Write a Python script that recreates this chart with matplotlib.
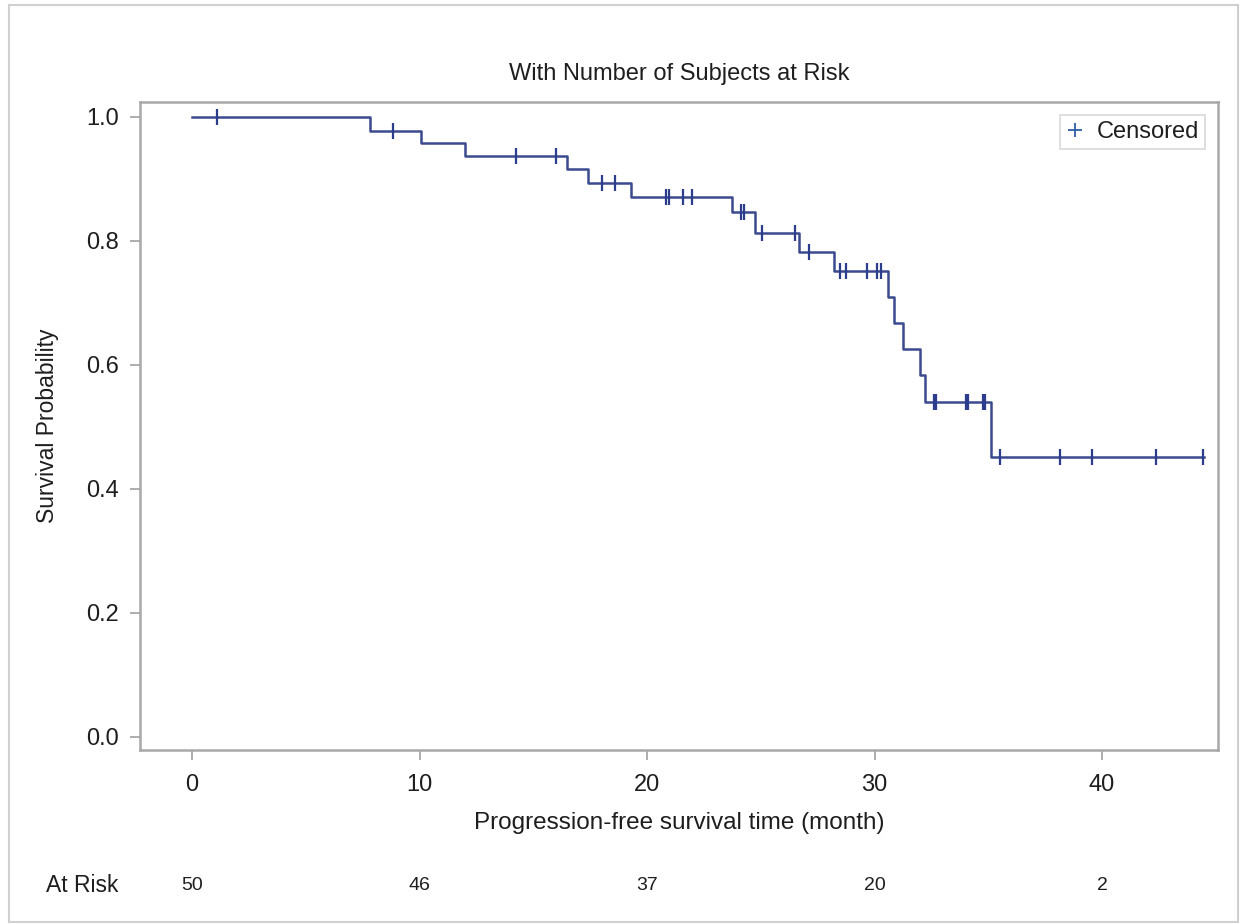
import numpy as np
import matplotlib
matplotlib.use("Agg")
import matplotlib.pyplot as plt
from matplotlib.patches import Rectangle
from matplotlib.lines import Line2D

plt.rcParams['font.family'] = ['Liberation Sans', 'DejaVu Sans']

# ---- data ----
step_times = [0, 7.8, 10.05, 12.0, 16.5, 17.4, 19.3, 23.75, 24.75, 26.7, 28.2,
              30.6, 30.87, 31.27, 32.0, 32.2, 35.1]
step_surv = [1.0, 0.978, 0.958, 0.937, 0.916, 0.894, 0.870, 0.846, 0.813, 0.782,
             0.752, 0.709, 0.668, 0.625, 0.584, 0.541, 0.451]
end_time = 44.5
censor_times = [1.1, 8.85, 14.25, 15.98, 18.0, 18.6, 20.85, 20.95, 21.56, 21.99,
                24.15, 24.25, 25.07, 26.5, 27.1, 28.5, 28.75, 29.66, 30.1, 30.29,
                32.6, 32.7, 34.0, 34.1, 34.75, 34.85, 35.5, 38.15, 39.57, 42.37, 44.45]
risk_times = [0, 10, 20, 30, 40]
risk_counts = [50, 46, 37, 20, 2]
x_ticks = [0, 10, 20, 30, 40]
y_ticks = [0.0, 0.2, 0.4, 0.6, 0.8, 1.0]

W, H = 1245, 924
fig = plt.figure(figsize=(W / 100, H / 100), dpi=100)
fig.patch.set_facecolor('white')

def fx(px):
    return px / W

def fy(py):
    return 1 - py / H

# outer frame
fig.add_artist(Rectangle((fx(9), fy(922)), fx(1238) - fx(9), fy(5) - fy(922),
                         transform=fig.transFigure, fill=False,
                         edgecolor='#D0D0D0', linewidth=1.5))

ax = fig.add_axes([fx(140), fy(750), fx(1218) - fx(140), fy(102) - fy(750)])

line_color = '#3B4A8E'
xs = list(step_times) + [end_time]
ys = list(step_surv) + [step_surv[-1]]
ax.step(xs, ys, where='post', color=line_color, linewidth=1.8, zorder=3)

# censor marks on the curve
st = np.array(step_times)
sv = np.array(step_surv)
cy = [sv[np.searchsorted(st, t, side='right') - 1] for t in censor_times]
ax.plot(censor_times, cy, linestyle='none', marker='|', markersize=12,
        markeredgewidth=1.6, color='#2B3D8C', zorder=4)

ax.set_xlim(-2.29, 45.1)
ax.set_ylim(-0.021, 1.024)
ax.set_xticks(x_ticks)
ax.set_yticks(y_ticks)
ax.set_xticklabels([str(v) for v in x_ticks])
ax.set_yticklabels([f"{v:.1f}" for v in y_ticks])

for s in ax.spines.values():
    s.set_color('#A8A8A8')
    s.set_linewidth(1.8)
ax.tick_params(axis='both', colors='#A0A0A0', labelcolor='#1E1E1E',
               labelsize=17, length=7, width=1.2)
ax.tick_params(axis='x', pad=10)
ax.tick_params(axis='y', pad=8)

ax.set_xlabel('Progression-free survival time (month)', fontsize=17.5,
              color='#1E1E1E', labelpad=12)
ax.set_ylabel('Survival Probability', fontsize=16.5, color='#1E1E1E', labelpad=20)
ax.set_title('With Number of Subjects at Risk', fontsize=17, color='#1E1E1E', pad=16)

# legend
handle = Line2D([], [], linestyle='none', marker='+', markersize=10,
                markeredgewidth=1.3, color='#2F5DA8')
leg = ax.legend([handle], ['Censored'], loc='upper right', fontsize=17,
                frameon=True, fancybox=False, handlelength=0.8,
                handletextpad=0.5, borderpad=0.25, borderaxespad=0.55)
leg.get_frame().set_edgecolor('#D0D0D0')
leg.get_frame().set_linewidth(1.2)
for t in leg.get_texts():
    t.set_color('#1E1E1E')

# at-risk row
trans = matplotlib.transforms.blended_transform_factory(ax.transData, fig.transFigure)
for t, n in zip(risk_times, risk_counts):
    ax.text(t, fy(886), str(n), transform=trans, ha='center', va='center',
            fontsize=14, color='#1E1E1E')
fig.text(fx(82), fy(886), 'At Risk', ha='center', va='center', fontsize=16.5,
         color='#1E1E1E')

fig.savefig('out.png', dpi=100, facecolor='white')
